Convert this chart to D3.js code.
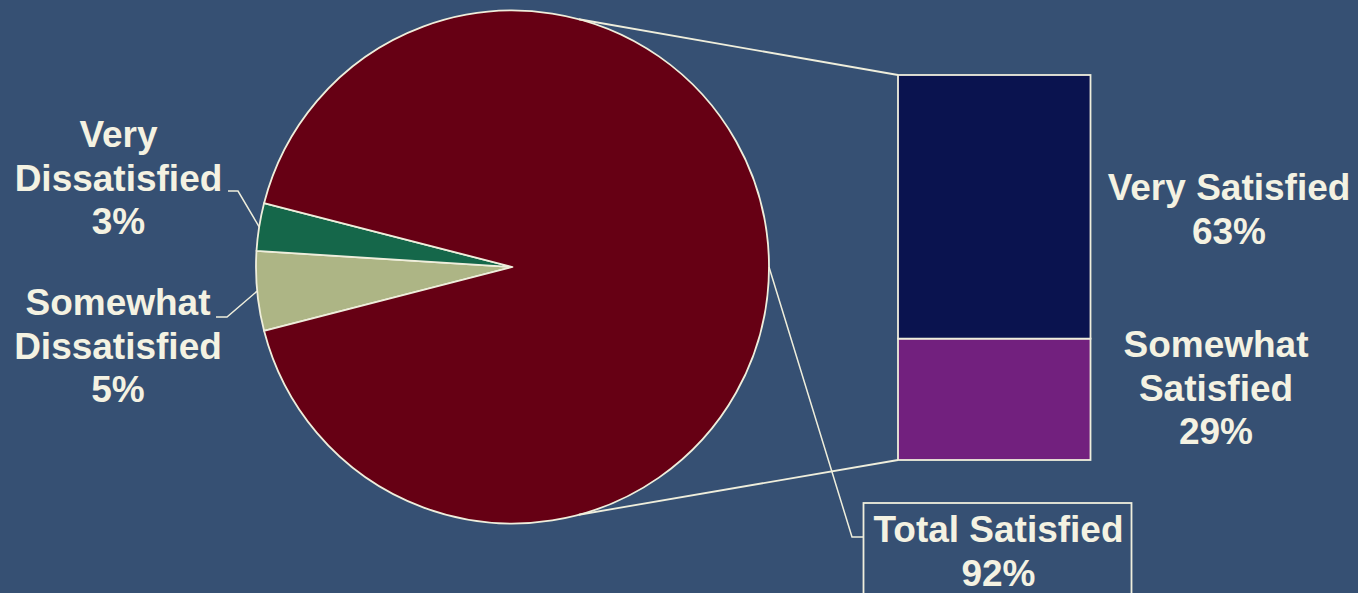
<!DOCTYPE html>
<html>
<head>
<meta charset="utf-8">
<script src="https://cdnjs.cloudflare.com/ajax/libs/d3/7.8.5/d3.min.js"></script>
<style>
  html, body { margin: 0; padding: 0; background: #365073; overflow: hidden; }
  svg { display: block; }
  text { font-family: "Liberation Sans", Arial, sans-serif; font-weight: bold; fill: #f4f2e2; }
</style>
</head>
<body>
<script>
// ---- data ----
const pieCategories = ["Somewhat Dissatisfied", "Very Dissatisfied", "Total Satisfied"];
const pieValues = [5, 3, 92];
const pieColors = ["#adb585", "#15674a", "#660014"];
const barCategories = ["Somewhat Satisfied", "Very Satisfied"];
const barValues = [29, 63];
const barColors = ["#72207e", "#0a134f"];

const W = 1358, H = 593;
const ink = "#efeedc";
const svg = d3.select("body").append("svg").attr("width", W).attr("height", H);

// ---- pie ----
const cx = 512.5, cy = 267, R = 256.5;
const deg = Math.PI / 180;
const start = (270 - 14.4) * deg;
const pie = d3.pie().sort(null).value(d => d.v).startAngle(start).endAngle(start + 2 * Math.PI);
const pieData = pie(pieCategories.map((c, i) => ({ c, v: pieValues[i], col: pieColors[i] })));
const arc = d3.arc().innerRadius(0).outerRadius(R);
const g = svg.append("g").attr("transform", `translate(${cx},${cy})`);
g.selectAll("path").data(pieData).join("path")
  .attr("d", arc)
  .attr("fill", d => d.data.col)
  .attr("stroke", ink).attr("stroke-width", 1.8).attr("stroke-linejoin", "round");

function edgePoint(a, r = R) { return [cx + r * Math.sin(a), cy - r * Math.cos(a)]; }
const mid = d => (d.startAngle + d.endAngle) / 2;

// ---- bar ----
const barX0 = 898, barX1 = 1090.5;
const total = d3.sum(barValues);
const y = d3.scaleLinear().domain([0, total]).range([460, 75]);
let acc = 0;
const barData = barValues.map((v, i) => { const d = { c: barCategories[i], v, y0: acc, y1: acc + v, col: barColors[i] }; acc += v; return d; });
svg.selectAll("rect.bar").data(barData).join("rect").attr("class", "bar")
  .attr("x", barX0).attr("width", barX1 - barX0)
  .attr("y", d => y(d.y1)).attr("height", d => y(d.y0) - y(d.y1))
  .attr("fill", d => d.col).attr("stroke", ink).attr("stroke-width", 1.8);

// connector lines
const topPt = edgePoint(15 * deg), botPt = edgePoint(165 * deg);
svg.append("line").attr("x1", topPt[0]).attr("y1", topPt[1]).attr("x2", barX0).attr("y2", y(total))
  .attr("stroke", ink).attr("stroke-width", 1.8);
svg.append("line").attr("x1", botPt[0]).attr("y1", botPt[1]).attr("x2", barX0).attr("y2", y(0))
  .attr("stroke", ink).attr("stroke-width", 1.8);

// ---- labels ----
const fs = 37, lh = 43.5;
function label(lines, x, yBase) {
  const t = svg.append("text").attr("text-anchor", "middle").style("font-size", fs + "px");
  lines.forEach((s, i) => t.append("tspan").attr("x", x).attr("y", yBase + i * lh).text(s));
}
const pct = v => v + "%";

// pie labels
const vd = pieData[1], sd = pieData[0], ts = pieData[2];
label(["Very", "Dissatisfied", pct(vd.data.v)], 118.5, 147);
label(["Somewhat", "Dissatisfied", pct(sd.data.v)], 118, 315);

const leader = pts => svg.append("polyline").attr("points", pts.map(p => p.join(",")).join(" "))
  .attr("fill", "none").attr("stroke", ink).attr("stroke-width", 1.5);
leader([[228, 191], [238, 191], edgePoint(mid(vd))]);
leader([[216, 317], [227, 317], edgePoint(mid(sd))]);

// Total Satisfied box
svg.append("rect").attr("x", 863.5).attr("y", 503).attr("width", 268).attr("height", 140)
  .attr("fill", "none").attr("stroke", ink).attr("stroke-width", 1.8);
label(["Total Satisfied", pct(ts.data.v)], 998.5, 542);
leader([edgePoint(mid(ts)), [852, 537], [863.5, 537]]);

// bar labels
label([barData[1].c, pct(barData[1].v)], 1229, 200);
label(["Somewhat", "Satisfied", pct(barData[0].v)], 1216, 357);
</script>
</body>
</html>
